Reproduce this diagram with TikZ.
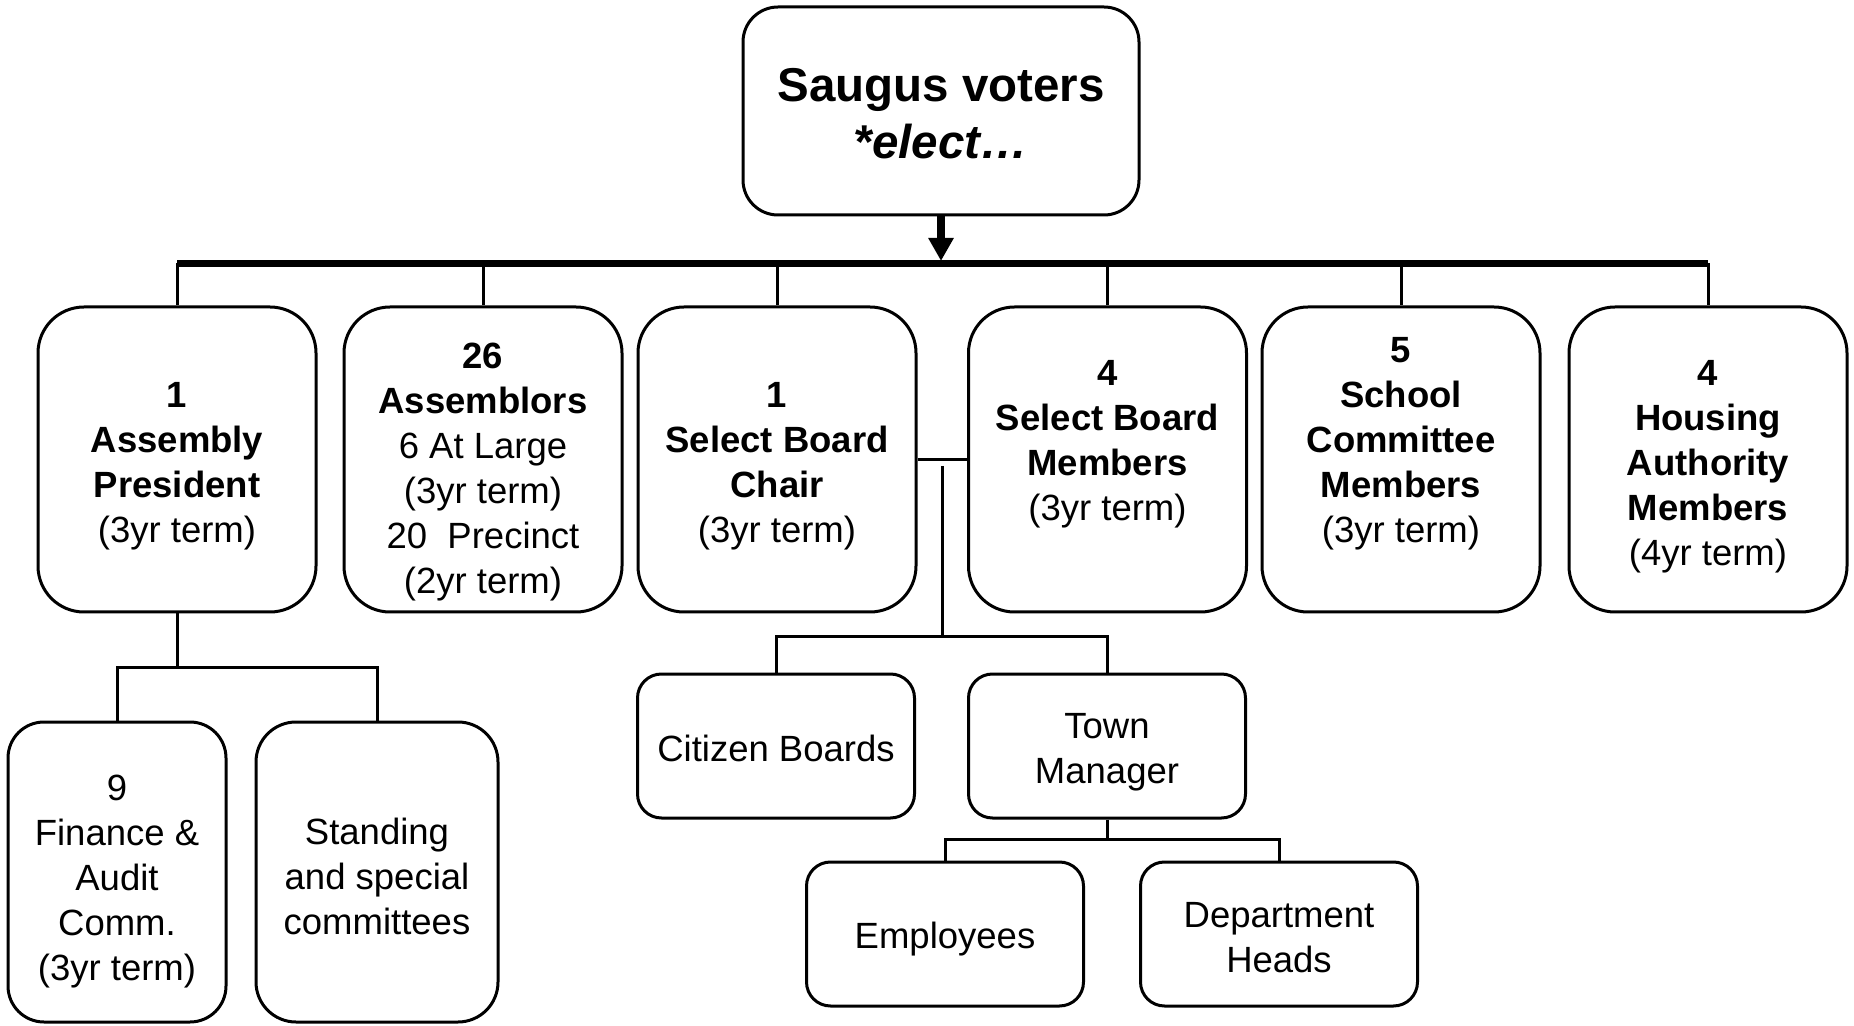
\documentclass[tikz,border=0pt]{standalone}
\usepackage{fontspec}
\setmainfont{Liberation Sans}
\usetikzlibrary{arrows.meta}
\newcommand\normsize{\fontsize{18.25}{22.5}\selectfont}
\newcommand\bigsize{\fontsize{23.75}{28.5}\selectfont}
\tikzset{
  box/.style={draw, line width=1.5pt, inner sep=0pt},
  txt/.style={align=center, font=\normsize, inner sep=0pt},
  bigbox/.style={box, rounded corners=23pt, minimum width=139pt, minimum height=152.5pt},
  smallbox/.style={box, rounded corners=12pt, minimum width=138.5pt, minimum height=72pt},
  conn/.style={line width=1.5pt},
  busline/.style={line width=3.35pt},
  mainarrow/.style={line width=4pt, -{Triangle[width=12pt,length=11.5pt]}},
}
\begin{document}
\begin{tikzpicture}[x=0.5pt,y=-0.5pt]
\useasboundingbox (0,0) rectangle (1854,1026);
% top
\node[box, rounded corners=17.5pt, minimum width=198pt, minimum height=104pt] (top) at (941,111) {};
\node[txt, font=\bigsize\bfseries] (topt) at ([yshift=-1.2pt]top.center) {Saugus voters\\\textit{*elect…}};
% first row
\node[bigbox] (b1) at (177,459.5) {};
\node[txt] (b1t) at ([yshift=-3.5pt]b1.center) {\textbf{1}\\\textbf{Assembly}\\\textbf{President}\\(3yr term)};
\node[bigbox] (b2) at (483,459.5) {};
\node[txt] (b2t) at ([yshift=-6.5pt]b2.center) {\textbf{26}\\\textbf{Assemblors}\\6 At Large\\(3yr term)\\20\ \ Precinct\\(2yr term)};
\node[bigbox] (b3) at (777,459.5) {};
\node[txt] (b3t) at ([yshift=-3.5pt]b3.center) {\textbf{1}\\\textbf{Select Board}\\\textbf{Chair}\\(3yr term)};
\node[bigbox] (b4) at (1107.5,459.5) {};
\node[txt] (b4t) at ([yshift=7.5pt]b4.center) {\textbf{4}\\\textbf{Select Board}\\\textbf{Members}\\(3yr term)};
\node[bigbox] (b5) at (1401,459.5) {};
\node[txt] (b5t) at ([yshift=8pt]b5.center) {\textbf{5}\\\textbf{School}\\\textbf{Committee}\\\textbf{Members}\\(3yr term)};
\node[bigbox] (b6) at (1708,459.5) {};
\node[txt] (b6t) at ([yshift=-3.5pt]b6.center) {\textbf{4}\\\textbf{Housing}\\\textbf{Authority}\\\textbf{Members}\\(4yr term)};
% lower left
\node[box, rounded corners=18pt, minimum width=109pt, minimum height=150pt] (fin) at (117,872) {};
\node[txt] (fint) at ([yshift=-4.7pt]fin.center) {9\\Finance \&\\Audit\\Comm.\\(3yr term)};
\node[box, rounded corners=20pt, minimum width=121pt, minimum height=150pt] (stand) at (377,872) {};
\node[txt] (standt) at ([yshift=-2.4pt]stand.center) {Standing\\and special\\committees};
% middle lower
\node[smallbox] (cb) at (776,746) {};
\node[txt] (cbt) at ([yshift=-1.2pt]cb.center) {Citizen Boards};
\node[smallbox] (tm) at (1107,746) {};
\node[txt] (tmt) at ([yshift=-3pt]tm.center) {Town\\Manager};
\node[smallbox] (emp) at (945,934) {};
\node[txt] (empt) at ([yshift=-2.4pt]emp.center) {Employees};
\node[smallbox] (dh) at (1279,934) {};
\node[txt] (dht) at ([yshift=-1.8pt]dh.center) {Department\\Heads};
% connectors
\coordinate (bus) at (941,263.3);
\coordinate (arrowend) at (941,261);
\draw[mainarrow] (top.south) -- (arrowend);
\draw[busline] (bus -| b1) -- (bus -| b6);
\foreach \b in {b1,b2,b3,b4,b5,b6}{
  \draw[conn] (bus -| \b) -- (\b.north);
}
\draw[conn] (b3.east) -- (b4.west);
\coordinate (j1) at (942,466);
\coordinate (j2) at (942,637);
\draw[conn] (j1) -- (j2);
\draw[conn] (cb.north) |- (j2) -| (tm.north);
\coordinate (j3) at (1107,839);
\draw[conn] (tm.south) -- (j3);
\draw[conn] (emp.north) |- (j3) -| (dh.north);
\coordinate (j4) at (177,667);
\draw[conn] (b1.south) -- (j4);
\draw[conn] (fin.north) |- (j4) -| (stand.north);
\end{tikzpicture}
\end{document}
